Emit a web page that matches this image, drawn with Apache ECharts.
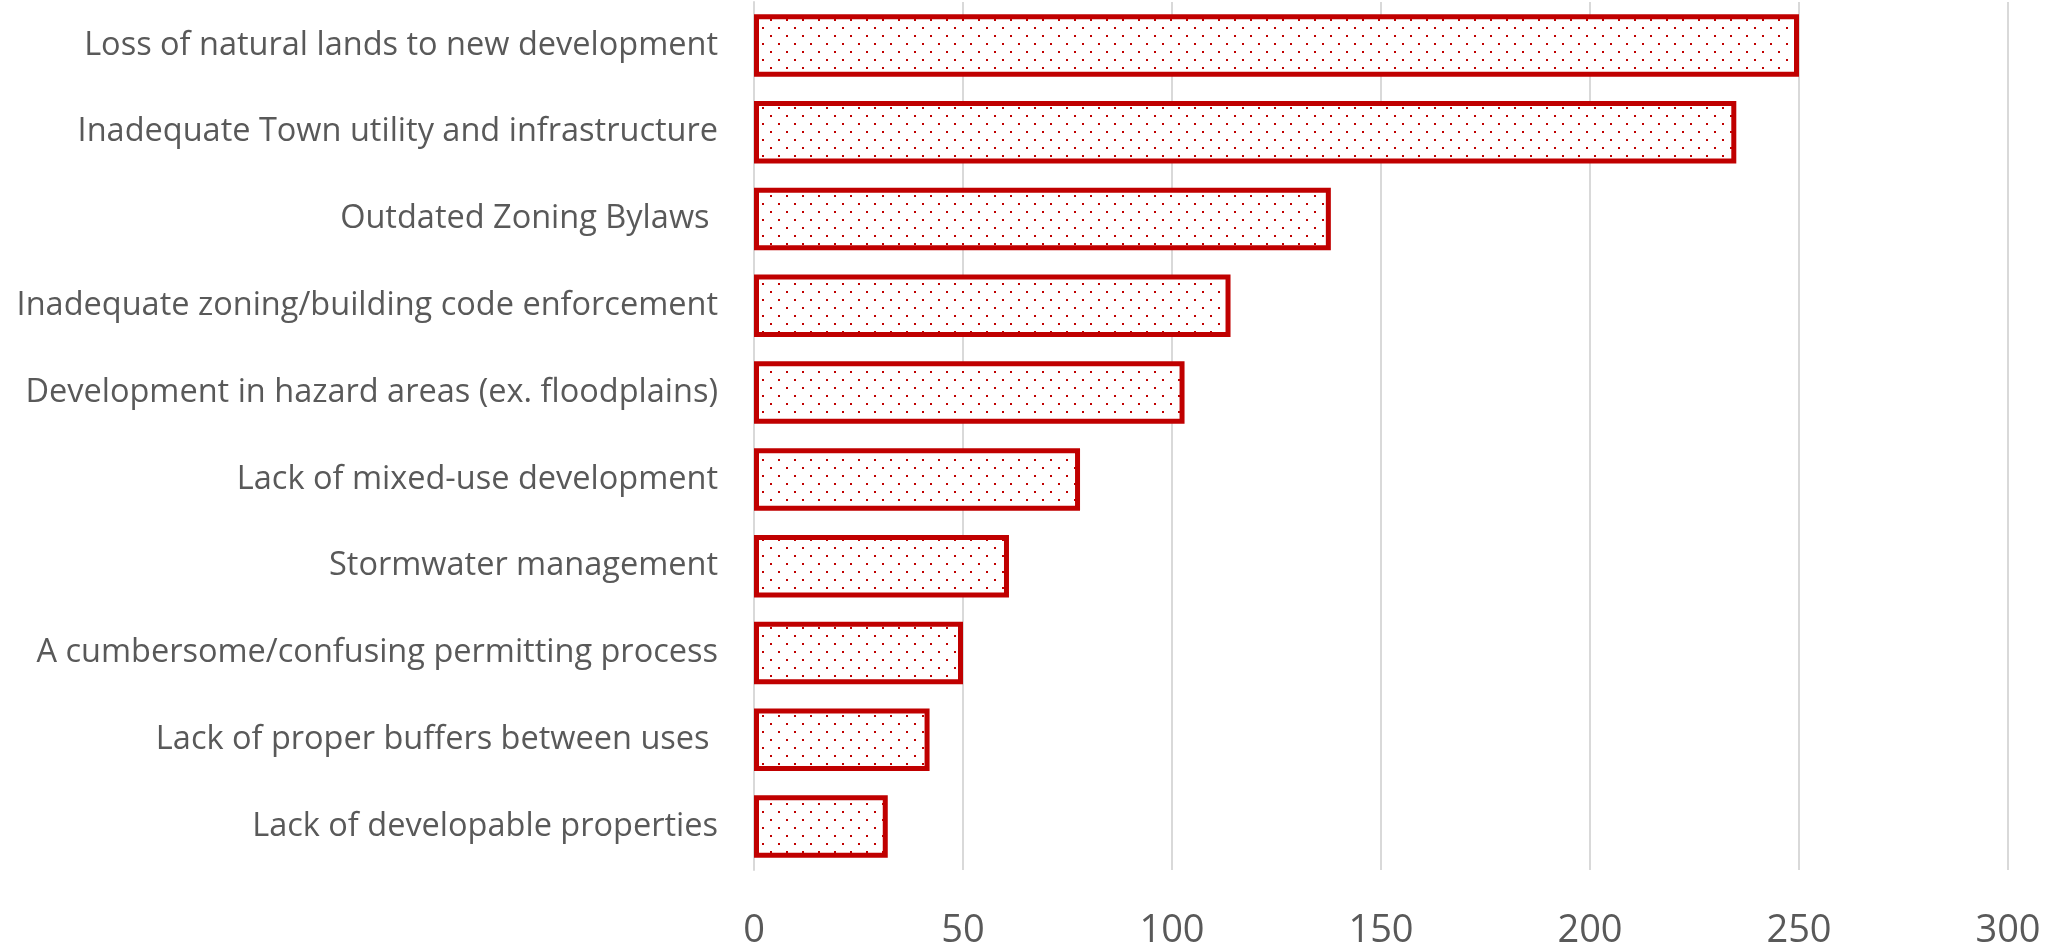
<!DOCTYPE html>
<html>
<head>
<meta charset="utf-8">
<title>Development concerns</title>
<script src="https://cdn.jsdelivr.net/npm/echarts@6/dist/echarts.min.js"></script>
<style>
  html, body { margin: 0; padding: 0; background: #ffffff; }
  #chart { width: 2048px; height: 950px; }
</style>
</head>
<body>
<div id="chart"></div>
<script>
// Survey issues, listed top to bottom
const categories = [
  'Loss of natural lands to new development',
  'Inadequate Town utility and infrastructure',
  'Outdated Zoning Bylaws ',
  'Inadequate zoning/building code enforcement',
  'Development in hazard areas (ex. floodplains)',
  'Lack of mixed-use development',
  'Stormwater management',
  'A cumbersome/confusing permitting process',
  'Lack of proper buffers between uses ',
  'Lack of developable properties'
];
// Number of responses per issue
const responses = [250, 235, 138, 114, 103, 78, 61, 50, 42, 32];
// Value axis ticks
const axisMin = 0;
const axisMax = 300;
const axisStep = 50;

const RED = '#C00000';
const TEXT = '#595959';

// Small-dot fill: white tile with two offset red dots
function dotPattern() {
  const c = document.createElement('canvas');
  c.width = 16; c.height = 16;
  const g = c.getContext('2d');
  g.fillStyle = '#ffffff';
  g.fillRect(0, 0, 16, 16);
  g.fillStyle = RED;
  g.fillRect(2, 3, 2, 2);
  g.fillRect(10, 11, 2, 2);
  return c;
}

const chart = echarts.init(document.getElementById('chart'), null, { renderer: 'canvas' });

chart.setOption({
  animation: false,
  backgroundColor: '#ffffff',
  grid: { left: 754, right: 40, top: 2, bottom: 75, containLabel: false },
  xAxis: {
    type: 'value',
    min: axisMin,
    max: axisMax,
    interval: axisStep,
    axisLine: { show: false },
    axisTick: { show: false },
    splitLine: { show: true, lineStyle: { color: '#d9d9d9', width: 2 } },
    axisLabel: {
      color: TEXT,
      fontFamily: 'Open Sans',
      fontSize: 38,
      margin: 42
    }
  },
  yAxis: {
    type: 'category',
    inverse: true,
    data: categories,
    axisLine: { show: true, lineStyle: { color: '#d9d9d9', width: 2 } },
    axisTick: { show: false },
    splitLine: { show: false },
    axisLabel: {
      color: TEXT,
      fontFamily: 'Open Sans',
      fontSize: 32.5,
      margin: 36,
      padding: [6, 0, 0, 0]
    }
  },
  series: [{
    type: 'bar',
    data: responses,
    barCategoryGap: '28%',
    itemStyle: {
      color: { image: dotPattern(), repeat: 'repeat' },
      borderColor: RED,
      borderWidth: 5
    }
  }]
});
</script>
</body>
</html>
